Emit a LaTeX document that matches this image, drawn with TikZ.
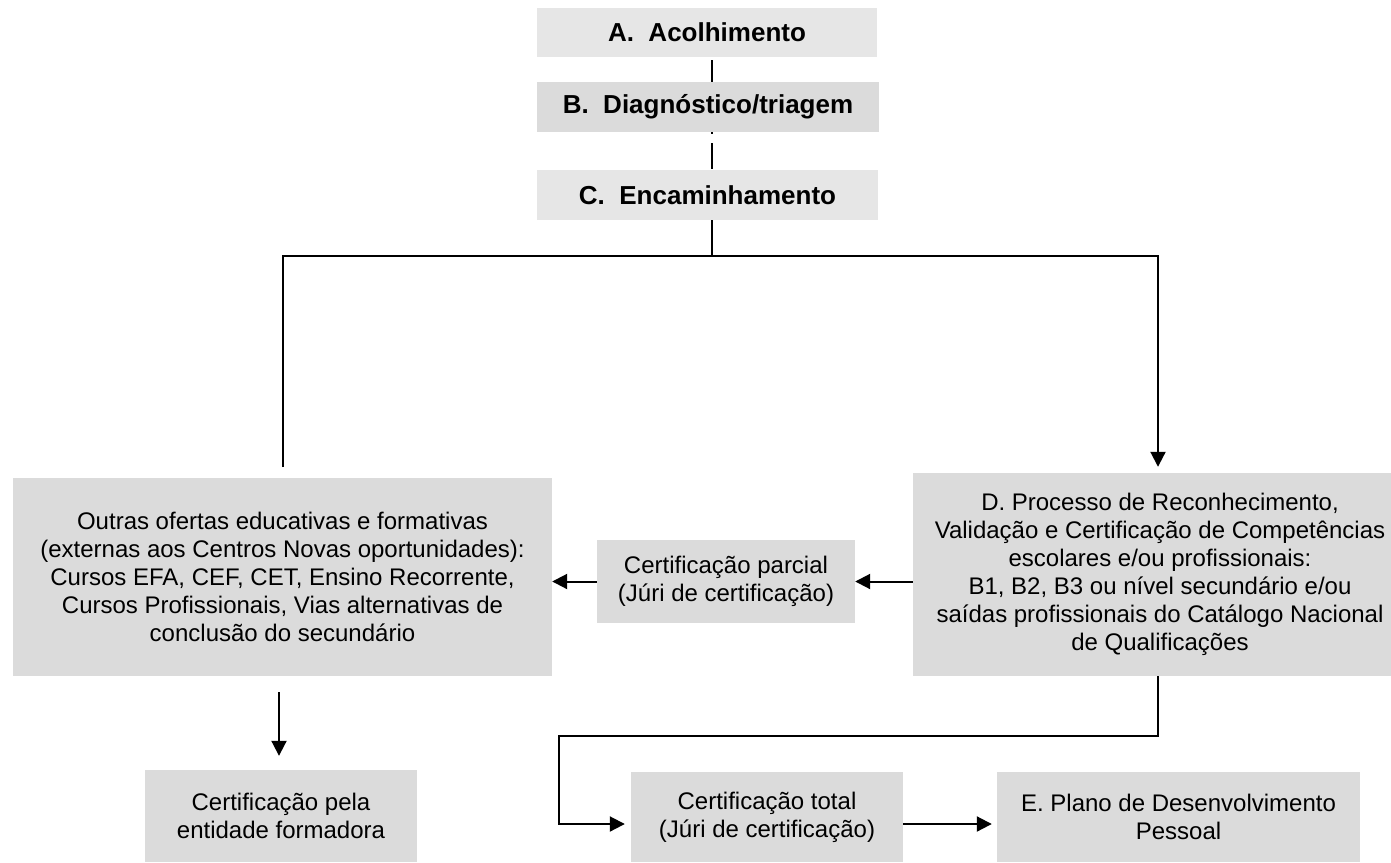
\documentclass[tikz,border=0pt]{standalone}
\usepackage{fontspec}
\setmainfont{Liberation Sans}
\usetikzlibrary{arrows.meta}
\definecolor{boxlight}{HTML}{E6E6E6}
\definecolor{boxgray}{HTML}{DBDBDB}
\begin{document}
\begin{tikzpicture}[x=1pt,y=-1pt,
  box/.style={fill=boxgray, inner sep=0pt, align=center, font=\fontsize{24}{28}\selectfont},
  title/.style={box, font=\fontsize{26}{30}\selectfont\bfseries},
  conn/.style={line width=2pt, draw=black},
  arr/.style={conn, -{Triangle[length=15pt,width=15pt]}}
]
\useasboundingbox (0,0) rectangle (1391,862);

% top boxes
\node[title, fill=boxlight, minimum width=340pt, minimum height=49pt] (A) at (707,32.5) {A.\ \ Acolhimento};
\node[title, minimum width=342pt, minimum height=50pt] (B) at (708,107) {B.\ \ Diagnóstico/triagem};
\node[title, fill=boxlight, minimum width=341pt, minimum height=50pt] (C) at (707.5,195) {C.\ \ Encaminhamento};

% middle boxes
\node[box, minimum width=539pt, minimum height=198pt] (O) at (282.5,577)
  {Outras ofertas educativas e formativas\\(externas aos Centros Novas oportunidades):\\Cursos EFA, CEF, CET, Ensino Recorrente,\\Cursos Profissionais, Vias alternativas de\\conclusão do secundário};
\node[box, minimum width=258pt, minimum height=83pt] (P) at (726,581.5)
  {Certificação parcial\\(Júri de certificação)};
\node[box, minimum width=494pt, minimum height=203pt] (D) at (1160,574.5)
  {D. Processo de Reconhecimento,\\Validação e Certificação de Competências\\escolares e/ou profissionais:\\B1, B2, B3 ou nível secundário e/ou\\saídas profissionais do Catálogo Nacional\\de Qualificações};

% bottom boxes
\node[box, minimum width=272pt, minimum height=92pt] (F) at (281,816)
  {Certificação pela\\entidade formadora};
\node[box, minimum width=272pt, minimum height=90pt] (T) at (767,817)
  {Certificação total\\(Júri de certificação)};
\node[box, minimum width=363pt, minimum height=90pt] (E) at (1178.5,817)
  {E. Plano de Desenvolvimento\\Pessoal};

% helper coordinates
\coordinate (J) at (712,256);
\coordinate (L) at (283,256);
\coordinate (R) at (1158,256);
\coordinate (Lend) at (283,467);
\coordinate (K1) at (1158,736);
\coordinate (K2) at (559,736);
\coordinate (K3) at (559,824);
\coordinate (Fx) at (279,0);

% connectors
\draw[conn, shorten <=3pt] (A.south -| J) -- (B.north -| J);
\draw[conn, dash pattern=on 2pt off 9pt on 26pt off 30pt] (B.south -| J) -- (C.north -| J);
\draw[conn] (C.south -| J) -- (J);
\draw[arr, shorten >=6pt] (Lend) -- (L) -- (R) -- (R |- D.north);
\draw[arr] (P.east -| D.west) -- (P.east);
\draw[arr] (P.west) -- (P.west -| O.east);
\draw[arr, shorten <=16pt, shorten >=14pt] (O.south -| Fx) -- (F.north -| Fx);
\draw[arr, shorten >=6pt] (D.south -| K1) -- (K1) -- (K2) -- (K3) -- (K3 -| T.west);
\draw[arr, shorten >=5pt] (K3 -| T.east) -- (K3 -| E.west);
\end{tikzpicture}
\end{document}
